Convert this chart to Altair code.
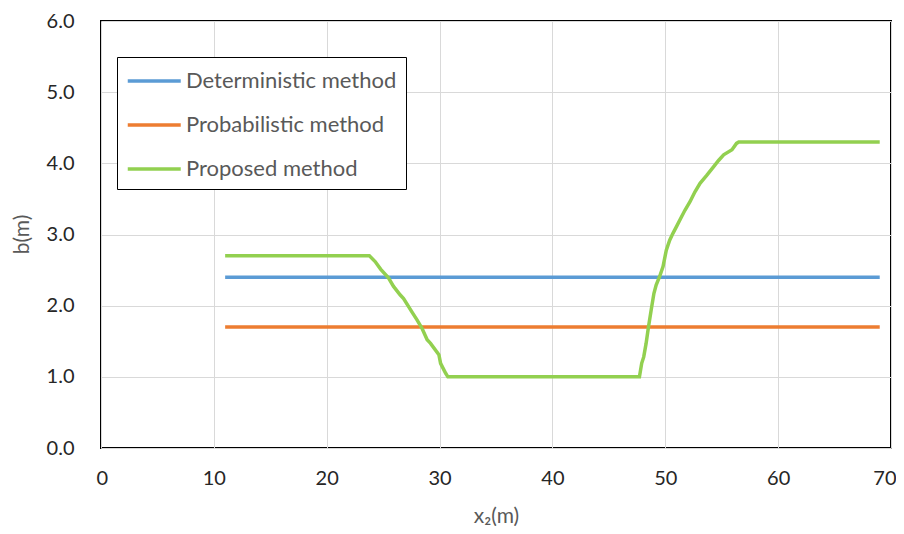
import altair as alt
import pandas as pd

series_names = ["Deterministic method", "Probabilistic method", "Proposed method"]
series_colors = ["#5B9BD5", "#ED7D31", "#92D050"]

det_x = [11, 69]
det_y = [2.4, 2.4]

prob_x = [11, 69]
prob_y = [1.7, 1.7]

prop_x = [11, 23.78, 24.29, 24.79, 25.47, 25.92, 26.52, 26.81, 27.56, 28.0, 28.45,
          28.9, 29.2, 29.94, 30.09, 30.54, 30.74, 47.71, 47.91, 48.09, 48.3, 48.51,
          48.75, 48.99, 49.19, 49.5, 49.8, 50.09, 50.39, 50.69, 50.99, 51.44, 51.74,
          52.19, 52.63, 53.08, 53.67, 54.27, 54.72, 55.17, 55.91, 56.31, 56.51, 69]
prop_y = [2.7, 2.7, 2.62, 2.51, 2.39, 2.27, 2.15, 2.10, 1.91, 1.80, 1.68,
          1.52, 1.47, 1.31, 1.19, 1.05, 1.0, 1.0, 1.19, 1.28, 1.47, 1.70,
          1.94, 2.17, 2.29, 2.41, 2.55, 2.78, 2.92, 3.02, 3.11, 3.25, 3.34,
          3.46, 3.60, 3.72, 3.83, 3.95, 4.04, 4.12, 4.19, 4.28, 4.3, 4.3]

x_ticks = [0, 10, 20, 30, 40, 50, 60, 70]
y_ticks = [0, 1, 2, 3, 4, 5, 6]

rows = []
for name, xs, ys in zip(series_names, [det_x, prob_x, prop_x], [det_y, prob_y, prop_y]):
    for i, (xv, yv) in enumerate(zip(xs, ys)):
        rows.append({"series": name, "x": xv, "b": yv, "order": i})
df = pd.DataFrame(rows)

FONT = "Lato"

chart = alt.Chart(df).mark_line(strokeWidth=3.5).encode(
    x=alt.X("x:Q",
            scale=alt.Scale(domain=[0, 70], nice=False, zero=False),
            axis=alt.Axis(values=x_ticks, title="x₂(m)", labelPadding=20,
                          labelFlush=True, labelFlushOffset=5,
                          titleX=395, titleY=68, titleBaseline="middle")),
    y=alt.Y("b:Q",
            scale=alt.Scale(domain=[0, 6], nice=False),
            axis=alt.Axis(values=y_ticks, format=".1f", title="b(m)", labelPadding=27,
                          labelFlush=False,
                          titleX=-79, titleY=213, titleAngle=-90, titleAlign="center",
                          titleBaseline="middle")),
    color=alt.Color("series:N",
                    scale=alt.Scale(domain=series_names, range=series_colors),
                    legend=alt.Legend(orient="none", legendX=16, legendY=36, title=None,
                                      symbolType="M-1,0H3", symbolSize=702,
                                      symbolStrokeWidth=3.5, labelFont=FONT,
                                      labelFontSize=22, labelColor="#595959",
                                      labelLimit=400, strokeColor="black",
                                      fillColor="white", padding=9, rowPadding=18,
                                      labelOffset=30, cornerRadius=0)),
    order="order:Q",
).properties(
    width=790,
    height=427,
    autosize=alt.AutoSizeParams(type="none"),
    padding={"left": 93, "top": 13, "right": 5, "bottom": 78},
).configure_view(
    stroke="black", strokeWidth=2
).configure_axis(
    grid=True, gridColor="#d9d9d9", gridWidth=1, domain=False, ticks=False,
    labelFont=FONT, labelFontSize=20, labelColor="#262626",
    titleFont=FONT, titleFontSize=21, titleColor="#595959", titleFontWeight="normal",
)

chart.save("out.html", embed_options={"renderer": "svg", "actions": False})
